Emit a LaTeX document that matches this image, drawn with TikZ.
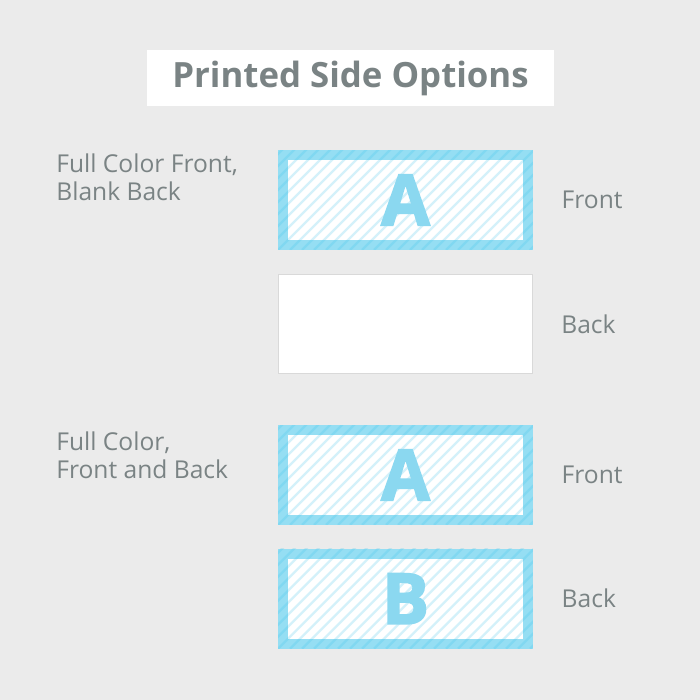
\documentclass[tikz,border=0pt]{standalone}
\usepackage{fontspec}
\setmainfont{Open Sans}
\newfontfamily\heavyfont{Open Sans}[BoldFeatures={FakeBold=2.5}]
\usetikzlibrary{positioning}
\definecolor{bggray}{HTML}{EBEBEB}
\definecolor{labgray}{HTML}{7A8384}
\definecolor{cardblue}{HTML}{95DEF3}
\definecolor{stripeblue}{HTML}{3CC3EA}
\definecolor{lettblue}{HTML}{8BD8F0}

\begin{document}
\begin{tikzpicture}[x=0.02cm,y=-0.02cm,
  card/.style={fill=cardblue, minimum width=5.1cm, minimum height=2cm, inner sep=0pt,
    text=lettblue, font=\heavyfont\fontsize{40}{40}\selectfont\bfseries,
    path picture={
      \fill[white] ([shift={(0.2cm,0.2cm)}]path picture bounding box.south west)
        rectangle ([shift={(-0.2cm,-0.2cm)}]path picture bounding box.north east);
      \foreach \k in {-10,...,21}
        \draw[stripeblue, opacity=0.22, line width=1.3pt]
          ([xshift=\k*0.24cm]path picture bounding box.south west) -- ++(2.4cm,2.4cm);
    }},
  blankcard/.style={fill=white, draw=black!15, line width=0.6pt,
    minimum width=5.08cm, minimum height=1.98cm},
  side/.style={text=labgray, font=\fontsize{14}{16}\selectfont, inner sep=0pt, anchor=west},
  option/.style={side, align=left}]

\fill[bggray] (0,0) rectangle (700,700);

\node[fill=white, minimum width=8.14cm, minimum height=1.12cm, text=labgray,
  font=\fontsize{19.8}{24}\selectfont\bfseries] (title) at (350.5,78) {Printed Side Options};

% blank back
\node[card] (front1) at (405.5,200) {A};
\node[blankcard, below=0.48cm of front1] (back1) {};
\node[option] (opt1) at (56,177) {Full Color Front,\\Blank Back};
\node[side, right=0.56cm of front1] (front1lab) {Front};
\node[side, right=0.56cm of back1] (back1lab) {Back};

% printed both sides
\node[card] (front2) at (405.5,475) {A};
\node[card, below=0.46cm of front2] (back2) {B};
\node[option] (opt2) at (56,455) {Full Color,\\Front and Back};
\node[side, right=0.56cm of front2] (front2lab) {Front};
\node[side, right=0.56cm of back2] (back2lab) {Back};
\end{tikzpicture}
\end{document}
